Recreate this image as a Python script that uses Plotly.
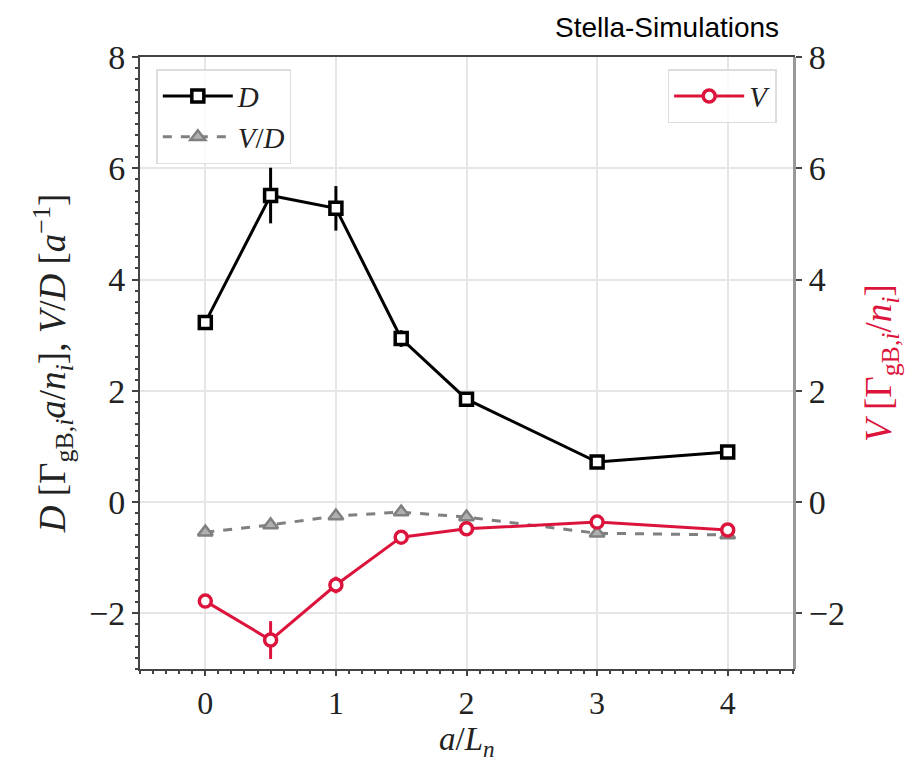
import plotly.graph_objects as go

x_vals = [0, 0.5, 1, 1.5, 2, 3, 4]
D_vals = [3.23, 5.51, 5.28, 2.94, 1.85, 0.72, 0.90]
D_err = [0.08, 0.5, 0.4, 0.15, 0.08, 0.06, 0.06]
VD_vals = [-0.54, -0.41, -0.25, -0.18, -0.27, -0.56, -0.59]
VD_err = [0.03, 0.03, 0.03, 0.03, 0.03, 0.03, 0.03]
V_vals = [-1.78, -2.48, -1.49, -0.63, -0.48, -0.36, -0.50]
V_err = [0.05, 0.34, 0.15, 0.05, 0.04, 0.04, 0.04]

x_ticks = [0, 1, 2, 3, 4]
y_ticks = [-2, 0, 2, 4, 6, 8]

CRIMSON = "#DC143C"
GRAY = "#808080"
SERIF = "Liberation Serif, DejaVu Serif, serif"

fig = go.Figure()

fig.add_trace(go.Scatter(
    x=x_vals, y=D_vals, name="<i>D</i>", mode="lines+markers",
    line=dict(color="black", width=3),
    marker=dict(symbol="square", size=12, color="white", line=dict(color="black", width=3.5)),
    error_y=dict(type="data", array=D_err, color="black", thickness=3, width=0),
    legend="legend",
))
fig.add_trace(go.Scatter(
    x=x_vals, y=VD_vals, name="<i>V</i>/<i>D</i>", mode="lines+markers",
    line=dict(color=GRAY, width=3, dash="dash"),
    marker=dict(symbol="triangle-up", size=13, color="#b0b0b0", line=dict(color=GRAY, width=2.5)),
    error_y=dict(type="data", array=VD_err, color=GRAY, thickness=3, width=0),
    legend="legend",
))
fig.add_trace(go.Scatter(
    x=x_vals, y=V_vals, name="<i>V</i>", mode="lines+markers",
    line=dict(color=CRIMSON, width=3),
    marker=dict(symbol="circle", size=12, color="white", line=dict(color=CRIMSON, width=3.5)),
    error_y=dict(type="data", array=V_err, color=CRIMSON, thickness=3, width=0),
    yaxis="y2", legend="legend2",
))

fig.update_layout(
    width=922, height=763,
    margin=dict(l=132, r=137, t=49, b=102),
    paper_bgcolor="white", plot_bgcolor="white",
    font=dict(family=SERIF, size=34, color="#222"),
    xaxis=dict(
        range=[-0.5, 4.5], tickvals=x_ticks, ticks="outside", ticklen=5, tickwidth=1.5,
        tickcolor="#444", showgrid=True, gridcolor="#e6e6e6", gridwidth=1.5,
        showline=True, linecolor="#444", linewidth=2, mirror=True, zeroline=False,
        minor=dict(dtick=0.1, ticks="outside", ticklen=3, tickcolor="#444", showgrid=False),
        tickfont=dict(size=32, family=SERIF), ticklabelstandoff=0,
    ),
    yaxis=dict(
        range=[-3, 8], tickvals=y_ticks, ticks="outside", ticklen=6, tickwidth=1.5,
        tickcolor="#444", showgrid=True, gridcolor="#e6e6e6", gridwidth=1.5,
        showline=True, linecolor="#444", linewidth=2, mirror=True, zeroline=False,
        minor=dict(dtick=0.2, ticks="outside", ticklen=3, tickcolor="#444", showgrid=False),
        title=dict(text="<i>D</i> [Γ<sub>gB,<i>i</i></sub><i>a</i>/<i>n<sub>i</sub></i>], <i>V</i>/<i>D</i> [<i>a</i><sup>−1</sup>]",
                   font=dict(size=37, family=SERIF), standoff=12),
        tickfont=dict(size=34, family=SERIF),
    ),
    yaxis2=dict(
        range=[-3, 8], tickvals=y_ticks, overlaying="y", side="right", ticks="outside",
        ticklen=6, tickwidth=1.5, tickcolor="#444", showgrid=False, zeroline=False,
        showline=True, linecolor="#999", linewidth=3,
        title=dict(text="<i>V</i> [Γ<sub>gB,<i>i</i></sub>/<i>n<sub>i</sub></i>]",
                   font=dict(size=37, family=SERIF, color=CRIMSON), standoff=22),
        tickfont=dict(size=34, family=SERIF),
    ),
    legend=dict(
        x=0.025, y=0.98, xanchor="left", yanchor="top",
        bgcolor="rgba(255,255,255,0.8)", bordercolor="#dddddd", borderwidth=1.5,
        font=dict(size=29, family=SERIF), itemwidth=70, tracegroupgap=0,
    ),
    legend2=dict(
        x=0.975, y=0.98, xanchor="right", yanchor="top",
        bgcolor="rgba(255,255,255,0.8)", bordercolor="#dddddd", borderwidth=1.5,
        font=dict(size=29, family=SERIF), itemwidth=70,
    ),
    annotations=[
        dict(
            text="Stella-Simulations", xref="paper", yref="paper", x=1.0, y=1.0,
            xanchor="right", yanchor="bottom", yshift=12, xshift=-12, showarrow=False,
            font=dict(family="Liberation Sans, Arial, sans-serif", size=28, color="black"),
        ),
        dict(
            text="<i>a</i>/<i>L<sub>n</sub></i>", xref="paper", yref="paper", x=0.5, y=0,
            xanchor="center", yanchor="middle", yshift=-72, showarrow=False,
            font=dict(family=SERIF, size=33, color="#222"),
        ),
    ],
)

fig.write_html("out.html")
